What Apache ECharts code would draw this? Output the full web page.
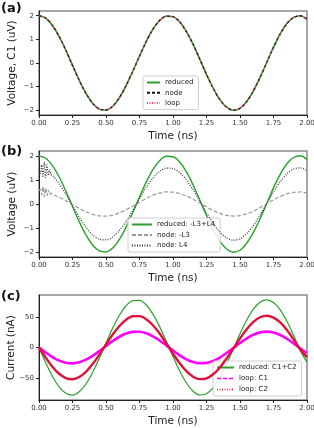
<!DOCTYPE html>
<html><head><meta charset="utf-8">
<script src="https://cdn.jsdelivr.net/npm/echarts@6/dist/echarts.min.js"></script>
<style>html,body{margin:0;padding:0;background:#fff}#c{width:314px;height:428px}</style>
</head><body><div id="c"></div>
<script>
// ---- data ----
const time = [0,0.05,0.1,0.15,0.2,0.25,0.3,0.35,0.4,0.45,0.5,0.55,0.6,0.65,0.7,0.75,0.8,0.85,0.9,0.95,1,1.05,1.1,1.15,1.2,1.25,1.3,1.35,1.4,1.45,1.5,1.55,1.6,1.65,1.7,1.75,1.8,1.85,1.9,1.95,2];
const timeB = [0,0.01,0.02,0.03,0.04,0.05,0.06,0.07,0.08,0.09,0.1,0.15,0.2,0.25,0.3,0.35,0.4,0.45,0.5,0.55,0.6,0.65,0.7,0.75,0.8,0.85,0.9,0.95,1,1.05,1.1,1.15,1.2,1.25,1.3,1.35,1.4,1.45,1.5,1.55,1.6,1.65,1.7,1.75,1.8,1.85,1.9,1.95,2];

// (a) Voltage, C1 (uV)
const reducedA = [2.00,1.90,1.59,1.13,0.54,-0.10,-0.73,-1.28,-1.70,-1.95,-1.99,-1.83,-1.47,-0.96,-0.35,0.29,0.91,1.43,1.80,1.98,1.96,1.74,1.33,0.79,0.16,-0.48,-1.07,-1.55,-1.87,-2.00,-1.92,-1.63,-1.18,-0.61,0.03,0.67,1.23,1.67,1.93,2.00,1.85];
const nodeA    = [2.00,1.90,1.59,1.13,0.54,-0.10,-0.73,-1.28,-1.70,-1.95,-1.99,-1.83,-1.47,-0.96,-0.35,0.29,0.91,1.43,1.80,1.98,1.96,1.74,1.33,0.79,0.16,-0.48,-1.07,-1.55,-1.87,-2.00,-1.92,-1.63,-1.18,-0.61,0.03,0.67,1.23,1.67,1.93,2.00,1.85];
const loopA    = [2.00,1.90,1.59,1.13,0.54,-0.10,-0.73,-1.28,-1.70,-1.95,-1.99,-1.83,-1.47,-0.96,-0.35,0.29,0.91,1.43,1.80,1.98,1.96,1.74,1.33,0.79,0.16,-0.48,-1.07,-1.55,-1.87,-2.00,-1.92,-1.63,-1.18,-0.61,0.03,0.67,1.23,1.67,1.93,2.00,1.85];

// (b) Voltage (uV)
const reducedB = [2.00,1.90,1.59,1.13,0.54,-0.10,-0.73,-1.28,-1.70,-1.95,-1.99,-1.83,-1.47,-0.96,-0.35,0.29,0.91,1.43,1.80,1.98,1.96,1.74,1.33,0.79,0.16,-0.48,-1.07,-1.55,-1.87,-2.00,-1.92,-1.63,-1.18,-0.61,0.03,0.67,1.23,1.67,1.93,2.00,1.85];
const nodeL3 = [0.55,0.62,0.38,0.72,0.30,0.66,0.34,0.58,0.38,0.45,0.40,0.28,0.14,-0.02,-0.18,-0.32,-0.43,-0.49,-0.50,-0.46,-0.37,-0.24,-0.09,0.07,0.23,0.36,0.45,0.50,0.49,0.43,0.33,0.20,0.04,-0.12,-0.27,-0.39,-0.47,-0.50,-0.48,-0.41,-0.30,-0.15,0.01,0.17,0.31,0.42,0.48,0.50,0.46];
const nodeL4 = [1.45,1.25,1.62,1.15,1.75,1.10,1.62,1.18,1.42,1.22,1.20,0.85,0.41,-0.07,-0.55,-0.96,-1.28,-1.46,-1.49,-1.37,-1.10,-0.72,-0.27,0.22,0.68,1.07,1.35,1.49,1.47,1.30,1.00,0.59,0.12,-0.36,-0.81,-1.17,-1.41,-1.50,-1.44,-1.23,-0.89,-0.45,0.02,0.50,0.92,1.25,1.45,1.50,1.39];

// (c) Current (nA)
const reducedC = [0,-24.8,-47.0,-64.4,-75.0,-77.9,-72.6,-59.8,-40.8,-17.6,7.6,31.9,52.9,68.4,76.8,77.1,69.6,54.7,34.2,10.1,-15.1,-38.6,-58.2,-71.7,-77.8,-75.7,-65.8,-49.1,-27.2,-2.5,22.4,45.0,62.9,74.3,78.0,73.6,61.5,42.9,20.0,-5.1,-24.0];
const loopC1 = [0,-8.3,-15.7,-21.5,-25.0,-26.0,-24.2,-19.9,-13.6,-5.9,2.5,10.6,17.6,22.8,25.6,25.7,23.2,18.2,11.4,3.4,-5.0,-12.9,-19.4,-23.9,-25.9,-25.2,-21.9,-16.4,-9.1,-0.8,7.5,15.0,21.0,24.8,26.0,24.5,20.5,14.3,6.7,-1.7,-9.0];
const loopC2 = [0,-16.5,-31.4,-43.0,-50.0,-51.9,-48.4,-39.9,-27.2,-11.7,5.0,21.3,35.3,45.6,51.2,51.4,46.4,36.5,22.8,6.7,-10.0,-25.7,-38.8,-47.8,-51.8,-50.5,-43.9,-32.7,-18.1,-1.7,14.9,30.0,42.0,49.6,52.0,49.0,41.0,28.6,13.3,-3.4,-16.0];

// tick values
const timeTicks = [0,0.25,0.5,0.75,1,1.25,1.5,1.75,2];
const voltTicks = [-2,-1,0,1,2];
const currTicks = [-50,0,50];

// ---- chart ----
const FONT = 'DejaVu Sans';
const pairs = (xs, ys) => xs.map((x, i) => [x, ys[i]]);
const fmtNum = v => (v < 0 ? '\u2212' + Math.abs(v) : String(v));

const gridTops = [11, 151, 295];
const gridHeights = [104, 106, 105];
const grids = gridTops.map((t, i) => ({
  left: 39, right: 7, top: t, height: gridHeights[i],
  containLabel: false, outerBoundsMode: 'none',
  show: true, borderColor: '#8a8a8a', borderWidth: 1.5, backgroundColor: '#fff'
}));

const xAxes = [0, 1, 2].map(i => ({
  type: 'value', gridIndex: i, min: 0, max: 2, interval: 0.25,
  axisLine: { show: true, onZero: false, lineStyle: { color: '#222', width: 1 } },
  axisTick: { show: true, length: 3, lineStyle: { color: '#222' }, customValues: timeTicks },
  axisLabel: { fontSize: 7, color: '#333', margin: 5, fontFamily: FONT, customValues: timeTicks,
               formatter: v => Number(v).toFixed(2) },
  splitLine: { show: false },
  name: 'Time (ns)', nameLocation: 'middle', nameGap: 16, nameMoveOverlap: false,
  nameTextStyle: { fontSize: 10.5, color: '#222', fontFamily: FONT }
}));

const yDefs = [
  { min: -2.2, max: 2.2, ticks: voltTicks, name: 'Voltage, C1 (uV)', gap: 21 },
  { min: -2.2, max: 2.2, ticks: voltTicks, name: 'Voltage (uV)', gap: 21 },
  { min: -86, max: 86, ticks: currTicks, name: 'Current (nA)', gap: 22 }
];
const yAxes = yDefs.map((d, i) => ({
  type: 'value', gridIndex: i, min: d.min, max: d.max,
  axisLine: { show: true, onZero: false, lineStyle: { color: '#222', width: 1 } },
  axisTick: { show: true, length: 3, lineStyle: { color: '#222' }, customValues: d.ticks },
  axisLabel: { fontSize: 7, color: '#333', margin: 5, fontFamily: FONT, customValues: d.ticks,
               formatter: v => fmtNum(v) },
  splitLine: { show: false },
  name: d.name, nameLocation: 'middle', nameGap: d.gap, nameRotate: 90, nameMoveOverlap: false,
  nameTextStyle: { fontSize: 10.5, color: '#222', fontFamily: FONT }
}));

const GREEN = '#2ca02c';
const line = (name, xi, xs, ys, style, z) => ({
  name, type: 'line', xAxisIndex: xi, yAxisIndex: xi, data: pairs(xs, ys),
  smooth: 0.3, symbol: 'none', showSymbol: false, lineStyle: style, z: z || 2,
  itemStyle: { color: style.color }, emphasis: { disabled: true }
});

const series = [
  line('reduced', 0, time, reducedA, { color: GREEN, width: 1.6 }),
  line('node', 0, time, nodeA, { color: '#111', width: 1.3, type: [3, 2] }, 3),
  line('loop', 0, time, loopA, { color: '#e8456f', width: 1.1, type: [1, 1.5] }, 4),

  line('reduced: -L3+L4', 1, time, reducedB, { color: GREEN, width: 1.4 }),
  line('node: -L3', 1, timeB, nodeL3, { color: '#9a9a9a', width: 1.2, type: [4, 2] }, 3),
  line('node: L4', 1, timeB, nodeL4, { color: '#333', width: 1.2, type: [1, 1.5] }, 4),

  line('reduced: C1+C2', 2, time, reducedC, { color: GREEN, width: 1.2 }),
  line('loop: C1', 2, time, loopC1, { color: '#ff00ff', width: 2.6 }, 3),
  line('loop: C2', 2, time, loopC2, { color: '#dc143c', width: 2.4 }, 4)
];

const legendBase = {
  orient: 'vertical', itemHeight: 8, selectedMode: false,
  backgroundColor: 'rgba(255,255,255,0.85)', borderColor: '#cfcfcf', borderWidth: 1, borderRadius: 2,
  itemStyle: { color: 'rgba(0,0,0,0)', borderColor: 'rgba(0,0,0,0)', borderWidth: 0, opacity: 0 },
  textStyle: { fontSize: 7, color: '#222', fontFamily: FONT }
};
const legends = [
  Object.assign({}, legendBase, {
    left: 143, top: 76, itemWidth: 13, itemGap: 3.3, padding: [3, 5, 3, 3],
    data: ['reduced', 'node', 'loop']
  }),
  Object.assign({}, legendBase, {
    left: 128, top: 218, itemWidth: 20, itemGap: 3.5, padding: [3, 5, 3, 3],
    data: ['reduced: -L3+L4', 'node: -L3', 'node: L4']
  }),
  Object.assign({}, legendBase, {
    left: 213, top: 361, itemWidth: 17, itemGap: 4, padding: [3, 5, 3, 3],
    data: [
      { name: 'reduced: C1+C2' },
      { name: 'loop: C1', lineStyle: { type: [4, 2], width: 1.3 } },
      { name: 'loop: C2', lineStyle: { type: [1, 1.5], width: 1.3 } }
    ]
  })
];

const panelLabels = [['(a)', 2], ['(b)', 145], ['(c)', 290]].map(([t, y]) => ({
  type: 'text', left: 1, top: y,
  style: { text: t, fontSize: 13, fontWeight: 'bold', fill: '#111', fontFamily: FONT }
}));

const chart = echarts.init(document.getElementById('c'), null, { renderer: 'canvas' });
chart.setOption({
  animation: false,
  backgroundColor: '#fff',
  grid: grids,
  xAxis: xAxes,
  yAxis: yAxes,
  legend: legends,
  series: series,
  graphic: panelLabels
});
</script>
</body></html>
